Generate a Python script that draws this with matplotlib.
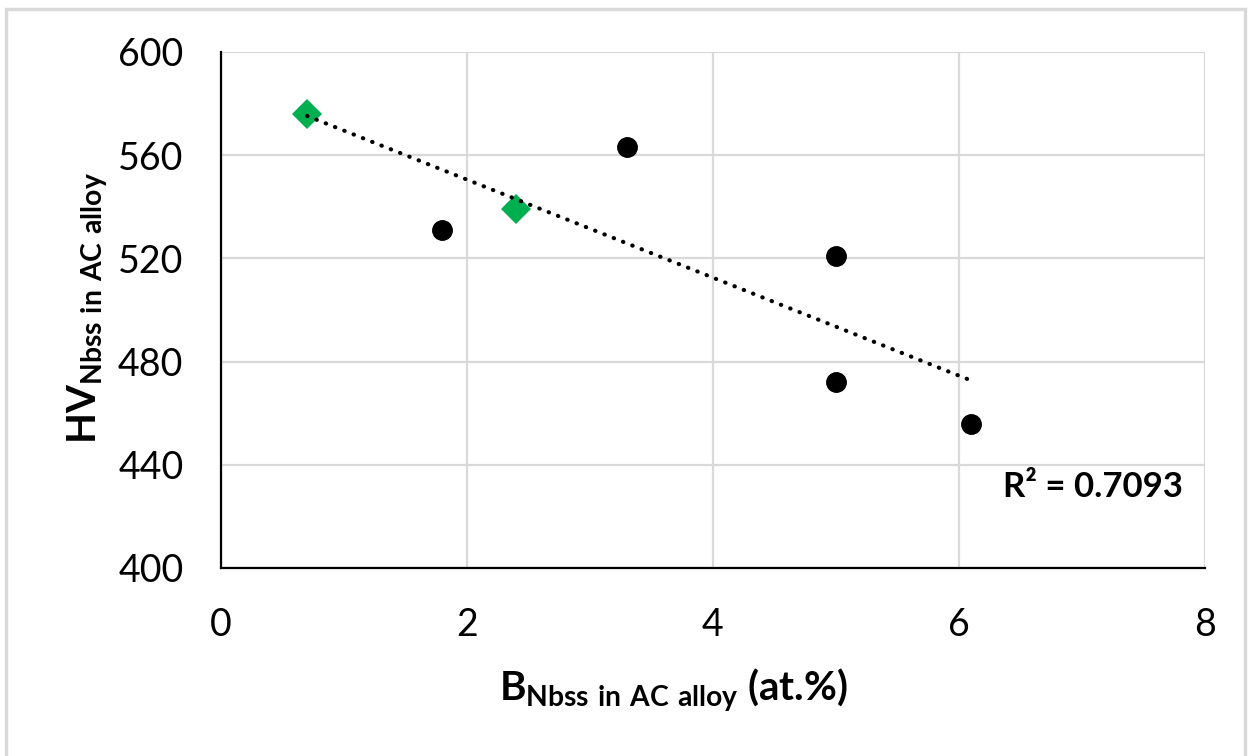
import numpy as np
import matplotlib
matplotlib.use("Agg")
import matplotlib.pyplot as plt
from matplotlib.patches import Rectangle

# Data
green_x = [0.7, 2.4]
green_y = [576, 539]
black_x = [1.8, 3.3, 5.0, 5.0, 6.1]
black_y = [531, 563, 521, 472, 456]
r2_label = "R² = 0.7093"
x_ticks = [0, 2, 4, 6, 8]
y_ticks = [400, 440, 480, 520, 560, 600]

plt.rcParams['font.family'] = ['Lato', 'DejaVu Sans']
plt.rcParams['mathtext.fontset'] = 'custom'
plt.rcParams['mathtext.rm'] = 'Lato'
plt.rcParams['mathtext.bf'] = 'Lato:bold'

W, H = 1251, 756
fig = plt.figure(figsize=(W / 100, H / 100), dpi=100)
ax = fig.add_axes([221 / W, 1 - 568 / H, (1205 - 221) / W, (568 - 52) / H])

grid_c = '#D9D9D9'
ax.set_xlim(0, 8)
ax.set_ylim(400, 600)
ax.set_xticks(x_ticks)
ax.set_yticks(y_ticks)
ax.grid(True, color=grid_c, linewidth=1.6, zorder=0)
ax.set_axisbelow(True)
for s in ['top', 'right']:
    ax.spines[s].set_visible(False)
for s in ['left', 'bottom']:
    ax.spines[s].set_color('black')
    ax.spines[s].set_linewidth(1.6)
    ax.spines[s].set_zorder(2)
ax.tick_params(axis='both', length=0, labelsize=27)
ax.tick_params(axis='y', pad=27)
ax.tick_params(axis='x', pad=28)

# Scatter points
ax.plot(black_x, black_y, 'o', color='black', markersize=14, zorder=3)
ax.plot(green_x, green_y, 'D', color='#00B050', markersize=15, markeredgewidth=0, zorder=3)

# Linear trendline
all_x = np.array(green_x + black_x)
all_y = np.array(green_y + black_y)
m, b = np.polyfit(all_x, all_y, 1)
tx = np.array([all_x.min(), all_x.max()])
ax.plot(tx, m * tx + b, linestyle=(0, (0.1, 2.3)), color='black', linewidth=3,
        dash_capstyle='round', zorder=4)

ax.text(0.978, 0.157, r2_label, transform=ax.transAxes, ha='right', va='center',
        fontsize=25, fontweight='bold')

# Axis labels
fig.text(673 / W, 1 - 690 / H, r'$\mathbf{B}_{\mathbf{Nbss\ in\ AC\ alloy}}$ (at.%)',
         ha='center', va='center', fontsize=29, fontweight='bold')
fig.text(88 / W, 1 - 308 / H, r'$\mathbf{HV}_{\mathbf{Nbss\ in\ AC\ alloy}}$',
         ha='center', va='center', rotation=90, fontsize=29, fontweight='bold')

# Outer chart border
fig.patches.append(Rectangle((6 / W, -0.02), (1245 - 6) / W, 1 - 9 / H + 0.02,
                             transform=fig.transFigure, fill=False,
                             edgecolor=grid_c, linewidth=2.5))

fig.savefig('out.png', dpi=100)
